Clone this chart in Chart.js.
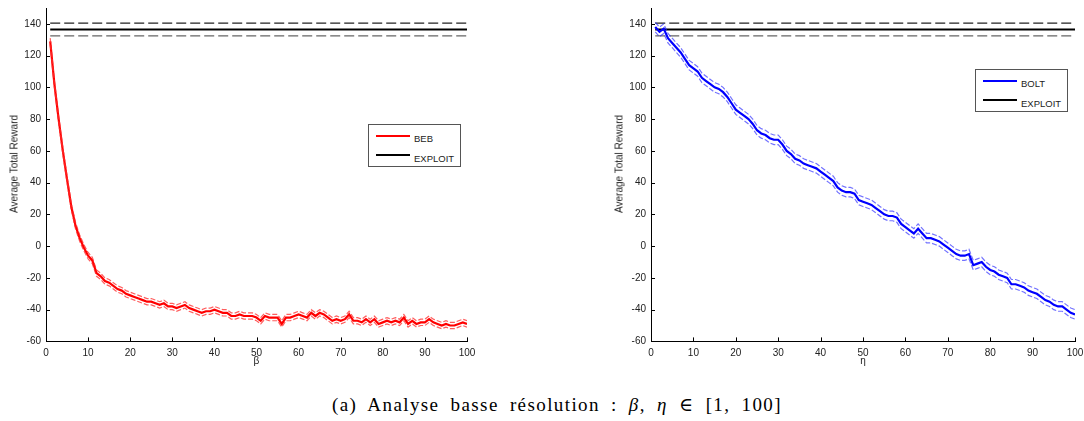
<!DOCTYPE html>
<html>
<head>
<meta charset="utf-8">
<script src="https://cdn.jsdelivr.net/npm/chart.js@4.4.1/dist/chart.umd.min.js"></script>
<style>
    body { margin: 0; width: 1084px; height: 421px; background: #fff; position: relative; overflow: hidden;
           font-family: "Liberation Sans", Arial, sans-serif; color: #222; }
    canvas { position: absolute; top: 0; }
    #chartBeb  { left: 0; }
    #chartBolt { left: 600px; }
    .ytitle { position: absolute; font-size: 10px; white-space: nowrap;
              transform: translate(-50%, -50%) rotate(-90deg); }
    .legend { position: absolute; width: 91px; height: 41px; border: 1px solid #555; background: #fff; font-size: 9.5px; }
    .legend .ln { position: absolute; left: 7px; width: 34px; height: 2px; }
    .legend .tx { position: absolute; left: 45px; line-height: 10px; }
    #caption { position: absolute; left: 0; width: 1114px; top: 393px; text-align: center;
               font-family: "Liberation Serif", "DejaVu Serif", serif; font-size: 19px;
               letter-spacing: 1.4px; word-spacing: 5px; color: #000; }
</style>
</head>
<body>

<canvas id="chartBeb" width="480" height="370"></canvas>
<canvas id="chartBolt" width="484" height="370"></canvas>

<div class="ytitle" style="left:14px; top:164px">Average Total Reward</div>
<div class="ytitle" style="left:619px; top:164px">Average Total Reward</div>

<div class="legend" style="left:368px; top:124px">
    <div class="ln" style="top:10px; background:#ff0000"></div><div class="tx" style="top:9px">BEB</div>
    <div class="ln" style="top:29px; background:#000"></div><div class="tx" style="top:29px">EXPLOIT</div>
</div>
<div class="legend" style="left:975px; top:69px">
    <div class="ln" style="top:10px; background:#0000ff"></div><div class="tx" style="top:9px">BOLT</div>
    <div class="ln" style="top:29px; background:#000"></div><div class="tx" style="top:29px">EXPLOIT</div>
</div>

<div id="caption">(a) Analyse basse résolution : <i>β</i>, <i>η</i> ∈ [1, 100]</div>

<script>
// ── Data ──
const PARAM = [
    1, 2, 3, 4, 5, 6, 7, 8, 9, 10, 11, 12, 13, 14, 15, 16, 17, 18, 19, 20,
    21, 22, 23, 24, 25, 26, 27, 28, 29, 30, 31, 32, 33, 34, 35, 36, 37, 38, 39, 40,
    41, 42, 43, 44, 45, 46, 47, 48, 49, 50, 51, 52, 53, 54, 55, 56, 57, 58, 59, 60,
    61, 62, 63, 64, 65, 66, 67, 68, 69, 70, 71, 72, 73, 74, 75, 76, 77, 78, 79, 80,
    81, 82, 83, 84, 85, 86, 87, 88, 89, 90, 91, 92, 93, 94, 95, 96, 97, 98, 99, 100
];

const BEB_MEAN = [
    129, 102, 80, 60, 42, 25, 13, 5, -1, -6, -9, -17, -19, -22, -23, -25, -27, -28, -30, -31,
    -32, -33, -34, -35, -35, -36, -37, -36, -38, -38, -39, -38, -37, -39, -40, -41, -42, -41, -41, -40,
    -41, -42, -42, -44, -44, -43, -44, -44, -44, -45, -47, -44, -45, -45, -45, -49, -45, -45, -44, -43,
    -44, -45, -42, -44, -42, -43, -45, -47, -46, -47, -46, -43, -47, -47, -48, -46, -48, -46, -49, -48,
    -47, -48, -47, -48, -45, -49, -47, -49, -48, -48, -46, -48, -49, -50, -49, -50, -50, -49, -48, -49
];

const BOLT_MEAN = [
    138, 135, 137, 131, 128, 125, 122, 118, 114, 112, 110, 106, 104, 102, 100, 99, 97, 94, 90, 86,
    84, 82, 80, 77, 73, 71, 70, 68, 67, 67, 64, 60, 58, 55, 54, 52, 51, 50, 49, 47,
    45, 43, 41, 37, 35, 34, 34, 33, 29, 28, 27, 26, 24, 22, 20, 19, 19, 18, 14, 12,
    10, 8, 11, 8, 5, 5, 4, 3, 1, -1, -3, -5, -6, -6, -5, -12, -11, -10, -13, -15,
    -16, -18, -19, -20, -24, -24, -25, -26, -28, -29, -30, -32, -34, -35, -37, -38, -38, -40, -42, -43
];

// confidence half-widths
const BEB_CI = 2;
const BOLT_CI = 3;

// EXPLOIT baseline: mean and its confidence bounds
const EXPLOIT_X = [1, 100];
const EXPLOIT_MEAN = 136.5;
const EXPLOIT_HI = 140.5;
const EXPLOIT_LO = 132.5;

const Y_TICKS = [-60, -40, -20, 0, 20, 40, 60, 80, 100, 120, 140];
const X_TICKS = [0, 10, 20, 30, 40, 50, 60, 70, 80, 90, 100];

// ── Inward tick marks (MATLAB style) ──
const inwardTicks = {
    id: 'inwardTicks',
    afterDraw(chart) {
        const { ctx, chartArea, scales: { x, y } } = chart;
        ctx.save();
        ctx.strokeStyle = '#000';
        ctx.lineWidth = 1;
        ctx.beginPath();
        x.ticks.forEach(t => {
            const px = Math.round(x.getPixelForValue(t.value)) + 0.5;
            ctx.moveTo(px, chartArea.bottom);
            ctx.lineTo(px, chartArea.bottom - 4);
        });
        y.ticks.forEach(t => {
            const py = Math.round(y.getPixelForValue(t.value)) + 0.5;
            ctx.moveTo(chartArea.left, py);
            ctx.lineTo(chartArea.left + 4, py);
        });
        ctx.stroke();
        ctx.restore();
    }
};

function line(xs, ys, color, width, dash) {
    return {
        data: xs.map((x, i) => ({ x, y: ys[i] })),
        borderColor: color,
        borderWidth: width,
        borderDash: dash || [],
        pointRadius: 0,
        fill: false,
        tension: 0
    };
}

function flat(value) {
    return EXPLOIT_X.map(() => value);
}

function makeChart(id, cfg) {
    const upper = cfg.mean.map(v => v + cfg.ci);
    const lower = cfg.mean.map(v => v - cfg.ci);

    new Chart(document.getElementById(id), {
        type: 'line',
        data: {
            datasets: [
                line(PARAM, upper, cfg.band, 1.2, [5, 2]),
                line(PARAM, lower, cfg.band, 1.2, [5, 2]),
                line(PARAM, cfg.mean, cfg.color, 2.2),
                line(EXPLOIT_X, flat(EXPLOIT_HI), '#222', 1.2, [10, 4]),
                line(EXPLOIT_X, flat(EXPLOIT_LO), '#666', 1.2, [10, 4]),
                line(EXPLOIT_X, flat(EXPLOIT_MEAN), '#000', 2)
            ]
        },
        options: {
            responsive: false,
            animation: false,
            events: [],
            layout: { padding: { left: 0, top: 8, right: cfg.padRight, bottom: 0 } },
            plugins: { legend: { display: false }, tooltip: { enabled: false } },
            scales: {
                x: {
                    type: 'linear',
                    min: 0, max: 100,
                    afterBuildTicks: s => { s.ticks = X_TICKS.map(v => ({ value: v })); },
                    afterFit: s => { s.height = 28.6; s.paddingLeft = 0; s.paddingRight = 0; },
                    grid: { display: false, drawTicks: false },
                    border: { display: true, color: '#000', width: 1 },
                    ticks: { padding: 6, color: '#222', font: { size: 10, family: '"Liberation Sans", Arial' } },
                    title: { display: true, text: cfg.xTitle, padding: { top: 0, bottom: 3 },
                             color: '#222', font: { size: 10, family: '"Liberation Sans", Arial' } }
                },
                y: {
                    min: -60, max: 150,
                    afterBuildTicks: s => { s.ticks = Y_TICKS.map(v => ({ value: v })); },
                    afterFit: s => { s.width = cfg.yWidth; s.paddingTop = 0; s.paddingBottom = 0; },
                    grid: { display: false, drawTicks: false },
                    border: { display: true, color: '#000', width: 1 },
                    ticks: { padding: 5, color: '#222', font: { size: 10, family: '"Liberation Sans", Arial' } }
                }
            }
        },
        plugins: [inwardTicks]
    });
}

makeChart('chartBeb', {
    mean: BEB_MEAN, ci: BEB_CI,
    color: '#ff0000', band: 'rgba(255,40,40,0.75)',
    xTitle: 'β', yWidth: 46, padRight: 13
});

makeChart('chartBolt', {
    mean: BOLT_MEAN, ci: BOLT_CI,
    color: '#0000ff', band: 'rgba(40,40,255,0.65)',
    xTitle: 'η', yWidth: 51, padRight: 9
});
</script>
</body>
</html>
